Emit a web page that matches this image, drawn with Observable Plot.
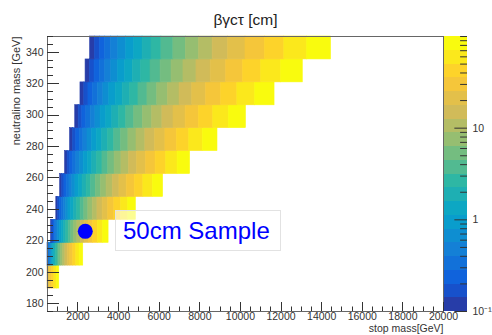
<!DOCTYPE html>
<html><head><meta charset="utf-8">
<script src="https://cdn.jsdelivr.net/npm/d3@7"></script>
<script src="https://cdn.jsdelivr.net/npm/@observablehq/plot@0.6"></script>
<style>
body{margin:0;background:#fff;}
#wrap{position:relative;width:492px;height:335px;overflow:hidden;font-family:"Liberation Sans",Arial,sans-serif;}
#wrap svg{position:absolute;left:0;top:0;}
#legend{position:absolute;left:115px;top:210px;width:166px;height:41px;box-sizing:border-box;border:1px solid #e2e2e2;background:rgba(255,255,255,0.55);display:flex;align-items:center;padding-left:7px;color:#0000ff;font-size:24px;font-family:"Liberation Sans",Arial,sans-serif;}
</style></head><body><div id="wrap"></div>
<script>
// ---- axes ----
const xDomain = [500, 20000];      // stop mass [GeV]
const yDomain = [175, 350];        // neutralino mass [GeV]
const yBinWidth = 175 / 12;
const xTickLabels = [2000, 4000, 6000, 8000, 10000, 12000, 14000, 16000, 18000, 20000];
const yTickLabels = [180, 200, 220, 240, 260, 280, 300, 320, 340];

// ---- z (βγcτ) scale: 20 log contour levels ----
const zRange = [0.1, 100];
const nLevels = 20;
const zMajorTicks = [0.1, 1, 10];
const zTickText = ["10⁻¹", "1", "10"];
const zMinorTicks = [0.2,0.3,0.4,0.5,0.6,0.7,0.8,0.9,2,3,4,5,6,7,8,9,20,30,40,50,60,70,80,90,100];

// ---- data: rows of the 2D histogram (neutralino mass bin centres) ----
const neutralinoMass = [196.9, 211.5, 226.0, 240.6, 255.2, 269.8, 284.4, 299.0, 313.5, 328.1, 342.7];
// first colour level of each row
const rowFirstLevel = [15, 2, 0, 0, 0, 0, 0, 0, 0, 0, 0];
// stop-mass positions where the colour level steps up
const rowEdges = [
  [500, 620, 730, 840, 960, 1080],
  [500, 557, 605, 657, 713, 775, 841, 913, 992, 1077, 1169, 1270, 1379, 1497, 1626, 1765, 1917, 2081, 2260],
  [676, 734, 797, 865, 939, 1020, 1107, 1202, 1306, 1418, 1540, 1672, 1815, 1971, 2140, 2324, 2523, 2740, 2975, 3231, 3508],
  [934, 1014, 1101, 1196, 1298, 1410, 1531, 1662, 1805, 1960, 2129, 2311, 2510, 2725, 2959, 3213, 3489, 3788, 4114, 4466, 4850],
  [1125, 1225, 1334, 1453, 1582, 1723, 1876, 2043, 2225, 2423, 2639, 2874, 3129, 3408, 3711, 4042, 4401, 4793, 5220, 5684, 6190],
  [1367, 1488, 1621, 1765, 1922, 2093, 2279, 2482, 2703, 2944, 3206, 3491, 3802, 4140, 4509, 4910, 5347, 5823, 6341, 6905, 7520],
  [1612, 1755, 1912, 2082, 2267, 2469, 2689, 2928, 3189, 3472, 3781, 4118, 4484, 4883, 5318, 5791, 6307, 6868, 7479, 8145, 8870],
  [1866, 2033, 2213, 2410, 2625, 2859, 3113, 3390, 3692, 4020, 4378, 4768, 5192, 5654, 6157, 6705, 7302, 7952, 8660, 9431, 10270],
  [2123, 2312, 2517, 2741, 2985, 3251, 3540, 3856, 4199, 4572, 4979, 5422, 5905, 6431, 7003, 7626, 8305, 9044, 9849, 10725, 11680],
  [2375, 2587, 2817, 3068, 3341, 3638, 3962, 4314, 4698, 5116, 5572, 6068, 6608, 7196, 7836, 8534, 9293, 10120, 11021, 12002, 13070],
  [2600, 2830, 3080, 3330, 3620, 3980, 4370, 4770, 5180, 5620, 6110, 6700, 7310, 7960, 8630, 9390, 10250, 11200, 12160, 13280, 14460]
];
// 50 cm sample point
const sampleStop = [2360];
const sampleNeutralino = [226];
const legendText = "50cm Sample";

// ---- ROOT kBird palette ----
const birdStops = [0.0000, 0.1250, 0.2500, 0.3750, 0.5000, 0.6250, 0.7500, 0.8750, 1.0000];
const birdR = [0.2082, 0.0592, 0.0780, 0.0232, 0.1802, 0.5301, 0.8186, 0.9956, 0.9764];
const birdG = [0.1664, 0.3599, 0.5041, 0.6419, 0.7178, 0.7492, 0.7328, 0.7862, 0.9832];
const birdB = [0.5293, 0.8684, 0.8385, 0.7914, 0.6425, 0.4662, 0.3499, 0.1968, 0.0539];
const bird = d3.scaleLinear().domain(birdStops)
  .range(birdStops.map((_, i) => d3.rgb(birdR[i]*255, birdG[i]*255, birdB[i]*255)))
  .interpolate(d3.interpolateRgb);
const lz0 = Math.log10(zRange[0]), lzStep = (Math.log10(zRange[1]) - lz0) / nLevels;
const levelColors = d3.range(nLevels).map(i => bird(Math.floor((i + 0.99) * 255 / nLevels) / 254));
const thresholds = d3.range(1, nLevels).map(i => Math.pow(10, lz0 + i * lzStep));
const levelMid = i => Math.pow(10, lz0 + (i + 0.5) * lzStep);
const colorScale = {type: "threshold", domain: thresholds, range: levelColors};

// cells
const cells = [];
neutralinoMass.forEach((m, r) => {
  const e = rowEdges[r];
  for (let k = 0; k < e.length - 1; k++) {
    cells.push({x1: e[k], x2: e[k+1], y1: m - yBinWidth/2, y2: m + yBinWidth/2, z: levelMid(rowFirstLevel[r] + k)});
  }
});
const sample = sampleStop.map((s, i) => ({stop: s, neut: sampleNeutralino[i]}));

const yMinor = d3.range(yDomain[0], yDomain[1] + 0.1, 5).filter(v => v % 20 !== 0);
const xMinor = d3.range(1000, 20000, 500).filter(v => v % 2000 !== 0);

function inwardTicks(index, scales, values, dims) {
  const {x, y} = scales;
  const g = d3.create("svg:g").attr("stroke", "#333").attr("stroke-width", 1).attr("fill", "none");
  const x0 = dims.marginLeft, y0 = dims.height - dims.marginBottom;
  yTickLabels.forEach(v => g.append("line").attr("x1", x0).attr("x2", x0 + 12).attr("y1", Math.round(y(v)) + 0.5).attr("y2", Math.round(y(v)) + 0.5));
  yMinor.forEach(v => g.append("line").attr("x1", x0).attr("x2", x0 + 6).attr("y1", Math.round(y(v)) + 0.5).attr("y2", Math.round(y(v)) + 0.5));
  xTickLabels.forEach(v => g.append("line").attr("y1", y0).attr("y2", y0 - 9).attr("x1", Math.round(x(v)) + 0.5).attr("x2", Math.round(x(v)) + 0.5));
  xMinor.forEach(v => g.append("line").attr("y1", y0).attr("y2", y0 - 4.5).attr("x1", Math.round(x(v)) + 0.5).attr("x2", Math.round(x(v)) + 0.5));
  return g.node();
}

const font = "'Liberation Sans', Arial, sans-serif";
const main = Plot.plot({
  width: 492, height: 335,
  marginLeft: 47, marginRight: 49, marginTop: 36, marginBottom: 24,
  x: {domain: xDomain},
  y: {domain: yDomain},
  color: colorScale,
  style: {fontFamily: font, fontSize: "10.5px", color: "#333", background: "transparent"},
  marks: [
    Plot.rect(cells, {x1: "x1", x2: "x2", y1: "y1", y2: "y2", fill: "z", stroke: "z", strokeWidth: 0.6}),
    Plot.frame({stroke: "#666"}),
    inwardTicks,
    Plot.axisY(yTickLabels, {tickSize: 0, tickPadding: 4, label: null, fontSize: 10.5, tickFormat: d => String(d)}),
    Plot.axisX(xTickLabels, {tickSize: 0, tickPadding: 1.5, label: null, fontSize: 10.5, tickFormat: d => String(d)}),
    Plot.dot(sample, {x: "stop", y: "neut", r: 7.5, fill: "#0000ff", stroke: "none"}),
    Plot.text(["βγcτ [cm]"], {frameAnchor: "top", dy: -23, fontSize: 15.5, fill: "#222"}),
    Plot.text(["neutralino mass [GeV]"], {frameAnchor: "top-left", rotate: -90, textAnchor: "end", dx: -35, fontSize: 11, fill: "#333"}),
    Plot.text(["stop mass[GeV]"], {frameAnchor: "bottom-right", textAnchor: "end", dy: 20.3, fontSize: 10.5, fill: "#333"})
  ]
});

const levels = d3.range(nLevels).map(i => ({lo: Math.pow(10, lz0 + i*lzStep), hi: Math.pow(10, lz0 + (i+1)*lzStep), z: levelMid(i)}));
const zLabels = zMajorTicks.map((v, i) => ({v, t: zTickText[i]}));
const bar = Plot.plot({
  width: 492, height: 335,
  marginLeft: 444, marginRight: 25, marginTop: 36, marginBottom: 24,
  x: {domain: [0, 1], axis: null},
  y: {type: "log", domain: zRange, axis: null},
  color: colorScale,
  style: {fontFamily: font, fontSize: "10.5px", color: "#333", background: "transparent"},
  marks: [
    Plot.rect(levels, {x1: 0, x2: 1, y1: "lo", y2: "hi", fill: "z", shapeRendering: "crispEdges"}),
    Plot.ruleY(zMinorTicks, {y: d => d, x1: 0.7, x2: 1, stroke: "#333"}),
    Plot.ruleY(zMajorTicks, {y: d => d, x1: 0.45, x2: 1, stroke: "#333"}),
    Plot.text(zLabels, {x: 1, y: "v", text: "t", dx: 5, textAnchor: "start", fontSize: 10.5, fill: "#333"})
  ]
});

const wrap = document.getElementById("wrap");
wrap.appendChild(main);
wrap.appendChild(bar);
const lg = document.createElement("div");
lg.id = "legend";
lg.textContent = legendText;
wrap.appendChild(lg);
</script></body></html>
